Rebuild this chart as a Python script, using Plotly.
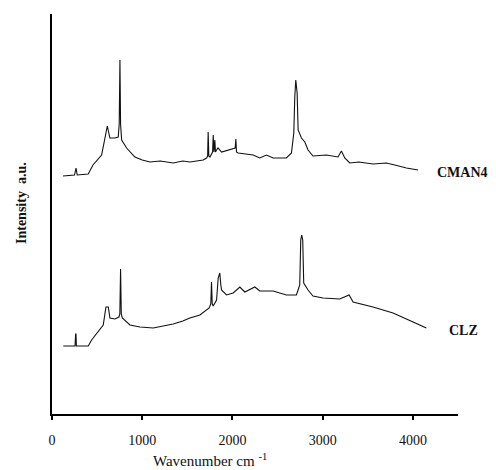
import plotly.graph_objects as go

# CMAN4 spectrum (wavenumber cm-1, intensity a.u. offset)
cman4_x = [122, 250, 266, 280, 402, 454, 550, 587, 613, 642, 697, 734, 745, 753, 760, 772, 827, 919, 1000, 1085,
           1200, 1343, 1450, 1528, 1676, 1713, 1725, 1731, 1738, 1750, 1780, 1787, 1795, 1805, 1812, 1824, 1840,
           1879, 1953, 2000, 2030, 2038, 2045, 2063, 2155, 2230, 2303, 2377, 2451, 2598, 2654, 2680, 2691, 2702,
           2717, 2728, 2765, 2802, 2838, 2893, 3041, 3170, 3208, 3245, 3300, 3400, 3558, 3706, 3800, 3928, 4057]
cman4_y = [238, 239, 246, 239, 240, 249, 259, 274, 288, 276, 276, 277, 290, 354, 290, 274, 266, 257, 254, 252,
           253, 251, 253, 252, 254, 256, 258, 282, 258, 257, 262, 279, 262, 274, 262, 264, 266,
           262, 264, 265, 266, 275, 262, 261, 260, 259, 256, 259, 256, 256, 261, 281, 317, 334,
           321, 284, 276, 272, 264, 258, 259, 257, 263, 256, 251, 252, 250, 251, 249, 246, 244]

# CLZ spectrum
clz_x = [125, 255, 262, 266, 270, 402, 439, 513, 568, 598, 624, 642, 697, 742, 752, 760, 768, 779, 864, 975,
         1122, 1343, 1450, 1528, 1639, 1742, 1760, 1768, 1776, 1787, 1824, 1842, 1860, 1870, 1879, 1934, 2008,
         2082, 2137, 2248, 2303, 2451, 2598, 2709, 2746, 2757, 2768, 2779, 2790, 2838, 2893, 3004, 3189,
         3293, 3337, 3558, 3780, 4002, 4149]
clz_y = [68, 68, 80, 80, 68, 68, 74, 82, 89, 107, 107, 96, 95, 97, 100, 145, 100, 96, 89, 87,
         86, 90, 93, 96, 99, 106, 110, 132, 110, 108, 114, 136, 141, 130, 124, 119, 121,
         127, 122, 127, 123, 123, 119, 119, 129, 174, 179, 174, 131, 124, 118, 116, 115,
         119, 112, 107, 101, 92, 86]

series_names = ["CMAN4", "CLZ"]
label_pos = [(4250, 242), (4375, 84)]
x_ticks = [0, 1000, 2000, 3000, 4000]

SERIF = "Liberation Serif"

fig = go.Figure()
for xs, ys, name in [(cman4_x, cman4_y, "CMAN4"), (clz_x, clz_y, "CLZ")]:
    fig.add_trace(go.Scatter(x=xs, y=ys, mode="lines", name=name,
                             line=dict(color="#111111", width=1.1), showlegend=False))

for name, (lx, ly) in zip(series_names, label_pos):
    fig.add_annotation(x=lx, y=ly, text="<b>" + name + "</b>", showarrow=False,
                       xanchor="left", yanchor="middle",
                       font=dict(family=SERIF, size=14, color="#111"))

# y-axis title
fig.add_annotation(x=0, xref="paper", xshift=-31, y=211, yref="y", text="<b>Intensity  a.u.</b>",
                   showarrow=False, textangle=-90, xanchor="center", yanchor="middle",
                   font=dict(family=SERIF, size=14, color="#111"))
# x-axis title
fig.add_annotation(x=1750, xref="x", y=0, yref="paper", yshift=-46,
                   text="Wavenumber cm <sup>-1</sup>", showarrow=False,
                   xanchor="center", yanchor="middle",
                   font=dict(family=SERIF, size=15, color="#111"))

fig.update_layout(
    width=496, height=470,
    margin=dict(l=44, r=46, t=6, b=64, pad=0),
    paper_bgcolor="white", plot_bgcolor="white",
    font=dict(family=SERIF, size=14, color="#111"),
    xaxis=dict(range=[0, 4500], tickvals=x_ticks, ticktext=[str(t) for t in x_ticks],
               showgrid=False, zeroline=False, showline=True, linecolor="black", linewidth=2,
               ticks="outside", ticklen=4, tickcolor="black", tickwidth=1.5,
               ticklabelstandoff=8,
               tickfont=dict(family=SERIF, size=14, color="#111")),
    yaxis=dict(range=[0, 400], showticklabels=False, ticks="", showgrid=False, zeroline=False,
               showline=True, linecolor="black", linewidth=2),
)
fig.write_html("out.html")
